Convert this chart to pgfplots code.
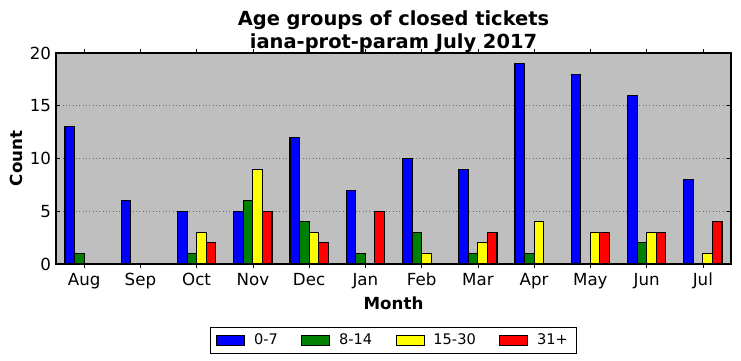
\documentclass[border=0pt]{standalone}
\usepackage{pgfplots}
\pgfplotsset{compat=1.18}
\usepackage{fontspec}
\setmainfont{DejaVu Sans}
\definecolor{mplbg}{HTML}{BFBFBF}
\definecolor{mplgreen}{HTML}{008000}
\definecolor{mplblue}{HTML}{0000FF}
\definecolor{mplyellow}{HTML}{FFFF00}
\definecolor{mplred}{HTML}{FF0000}
\pgfplotstableread{
x a b c d
0 13 1 0 0
1 6 0 0 0
2 5 1 3 2
3 5 6 9 5
4 12 4 3 2
5 7 1 0 5
6 10 3 1 0
7 9 1 2 3
8 19 1 4 0
9 18 0 3 3
10 16 2 3 3
11 8 0 1 4
}\datatable
\begin{document}
\begin{tikzpicture}[x=1pt,y=1pt]
\path[use as bounding box] (-40.32pt,-69.84pt) rectangle (493.2pt,190.08pt);
\begin{axis}[
  at={(0,0)}, anchor=south west,
  scale only axis,
  width=486pt, height=151.9pt,
  xmin=-0.5, xmax=11.5, ymin=0, ymax=20,
  axis background/.style={fill=mplbg},
  xtick={0,...,11},
  xticklabels={Aug,Sep,Oct,Nov,Dec,Jan,Feb,Mar,Apr,May,Jun,Jul},
  ytick={0,5,10,15,20},
  tick align=inside,
  xtick pos=both, ytick pos=both,
  major tick length=3pt,
  tick style={black, line width=0.5pt},
  ymajorgrids,
  grid style={gray!80!black, dotted, line width=0.6pt},
  /pgf/number format/assume math mode=true,
  ticklabel style={font=\fontsize{12}{14}\selectfont},
  xlabel={Month}, ylabel={Count},
  label style={font=\bfseries\fontsize{12}{14}\selectfont},
  xlabel style={at={(axis description cs:0.5,0)}, anchor=north, yshift=-20pt},
  ylabel style={at={(axis description cs:0,0.5)}, anchor=south, xshift=0pt, yshift=20.5pt},
  title={Age groups of closed tickets\\iana-prot-param July 2017},
  title style={align=center, font=\bfseries\fontsize{14}{16.5}\selectfont, yshift=-9.5pt},
  axis line style={black, line width=0.8pt},
  ybar, bar width=0.17,
  every axis plot/.append style={draw=black, line width=0.8pt},
  legend style={at={(0.5,-0.3)}, anchor=north, legend columns=4,
    font=\fontsize{10.5}{12}\selectfont, draw=black, line width=0.8pt,
    /tikz/every odd column/.append style={column sep=4.5pt},
    /tikz/every even column/.append style={column sep=15pt},
    inner xsep=4pt, inner ysep=2.5pt},
  legend image code/.code={\draw[#1, line width=0.6pt] (0pt,-3.4pt) rectangle (20pt,3.4pt);},
]
\addplot[fill=mplblue, bar shift=-0.255] table[x=x,y=a]{\datatable};
\addplot[fill=mplgreen, bar shift=-0.085] table[x=x,y=b]{\datatable};
\addplot[fill=mplyellow, bar shift=0.085] table[x=x,y=c]{\datatable};
\addplot[fill=mplred, bar shift=0.255] table[x=x,y=d]{\datatable};
\legend{0-7,8-14,15-30,31+}
\end{axis}
\end{tikzpicture}
\end{document}
